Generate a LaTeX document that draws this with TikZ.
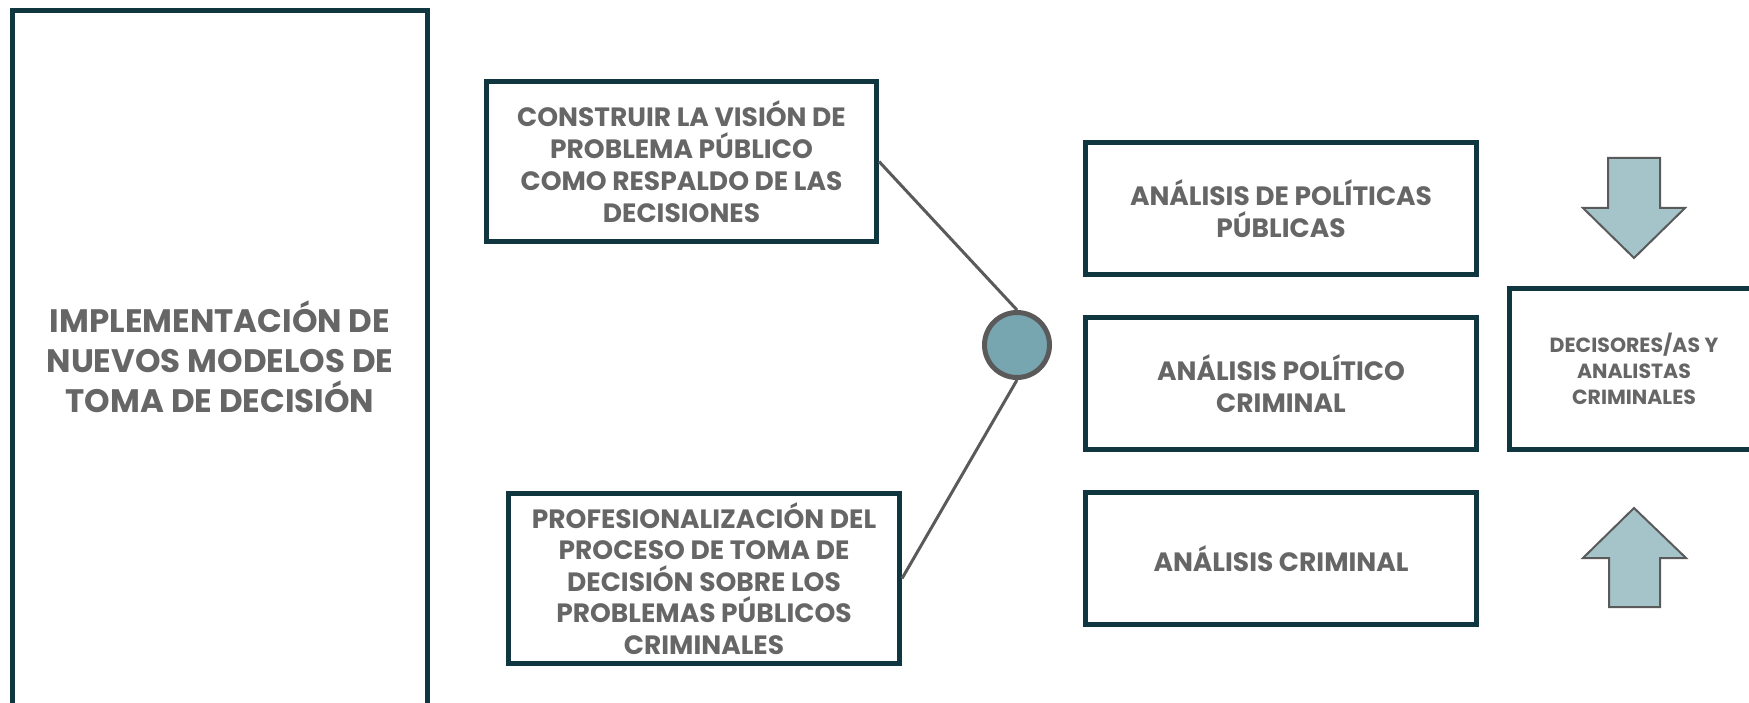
\documentclass[tikz,border=0pt]{standalone}
\usepackage{fontspec}
\setmainfont{Poppins}
\definecolor{bordc}{HTML}{10373F}
\definecolor{txtc}{HTML}{666666}
\definecolor{linec}{HTML}{5A5A5A}
\definecolor{circfill}{HTML}{77A6B0}
\definecolor{arrfill}{HTML}{A4C4C9}
\begin{document}
\begin{tikzpicture}[x=1pt,y=-1pt,
  box/.style={draw=bordc,line width=5pt,rectangle,fill=white,align=center,
    text=txtc,font=\bfseries,inner sep=0pt},
  conn/.style={draw=linec,line width=3pt},
  bigarrow/.style={draw=linec,line width=2pt,fill=arrfill,line join=miter}]
\clip (0,0) rectangle (1749,703);
\fill[white] (0,0) rectangle (1749,703);
% main box
\node[box,minimum width=415pt,minimum height=701pt,
  font=\bfseries\fontsize{32.5}{40}\selectfont] (main) at (220,361)
  {IMPLEMENTACIÓN DE\\NUEVOS MODELOS DE\\TOMA DE DECISIÓN\rule[-8pt]{0pt}{0pt}};
% left-middle boxes
\node[box,minimum width=390pt,minimum height=160pt,
  font=\bfseries\fontsize{26.5}{32}\selectfont] (vision) at (681.5,161.5)
  {CONSTRUIR LA VISIÓN DE\\PROBLEMA PÚBLICO\\COMO RESPALDO DE LAS\\DECISIONES};
\node[box,minimum width=391pt,minimum height=170pt,
  font=\bfseries\fontsize{26.5}{31.5}\selectfont] (prof) at (704,578.5)
  {PROFESIONALIZACIÓN DEL\\PROCESO DE TOMA DE\\DECISIÓN SOBRE LOS\\PROBLEMAS PÚBLICOS\\CRIMINALES};
% circle
\node[circle,draw=linec,line width=5pt,fill=circfill,minimum size=65pt,inner sep=0pt] (hub) at (1017,345) {};
\draw[conn] (vision.east) -- (hub.north);
\draw[conn] (prof.east) -- (hub.south);
% right boxes
\node[box,minimum width=391pt,minimum height=132pt,
  font=\bfseries\fontsize{26.5}{32.5}\selectfont] (app) at (1281,208.5)
  {ANÁLISIS DE POLÍTICAS\\PÚBLICAS};
\node[box,minimum width=391pt,minimum height=132pt,
  font=\bfseries\fontsize{26.5}{32.5}\selectfont] (apc) at (1281,383.5)
  {ANÁLISIS POLÍTICO\\CRIMINAL};
\node[box,minimum width=391pt,minimum height=132pt,
  font=\bfseries\fontsize{26.5}{32.5}\selectfont] (ac) at (1281,558.5)
  {ANÁLISIS CRIMINAL};
\node[box,minimum width=250pt,minimum height=161pt,
  font=\bfseries\fontsize{20.5}{25.7}\selectfont] (dec) at (1634,369)
  {DECISORES/AS Y\\ANALISTAS\\CRIMINALES};
% block arrows
\draw[bigarrow] (1608,158) -- (1660,158) -- (1660,208) -- (1685,208) -- (1634,258)
  -- (1583,208) -- (1608,208) -- cycle;
\draw[bigarrow] (1634,508) -- (1686,558) -- (1660,558) -- (1660,607) -- (1609,607)
  -- (1609,558) -- (1583,558) -- cycle;
\end{tikzpicture}
\end{document}
